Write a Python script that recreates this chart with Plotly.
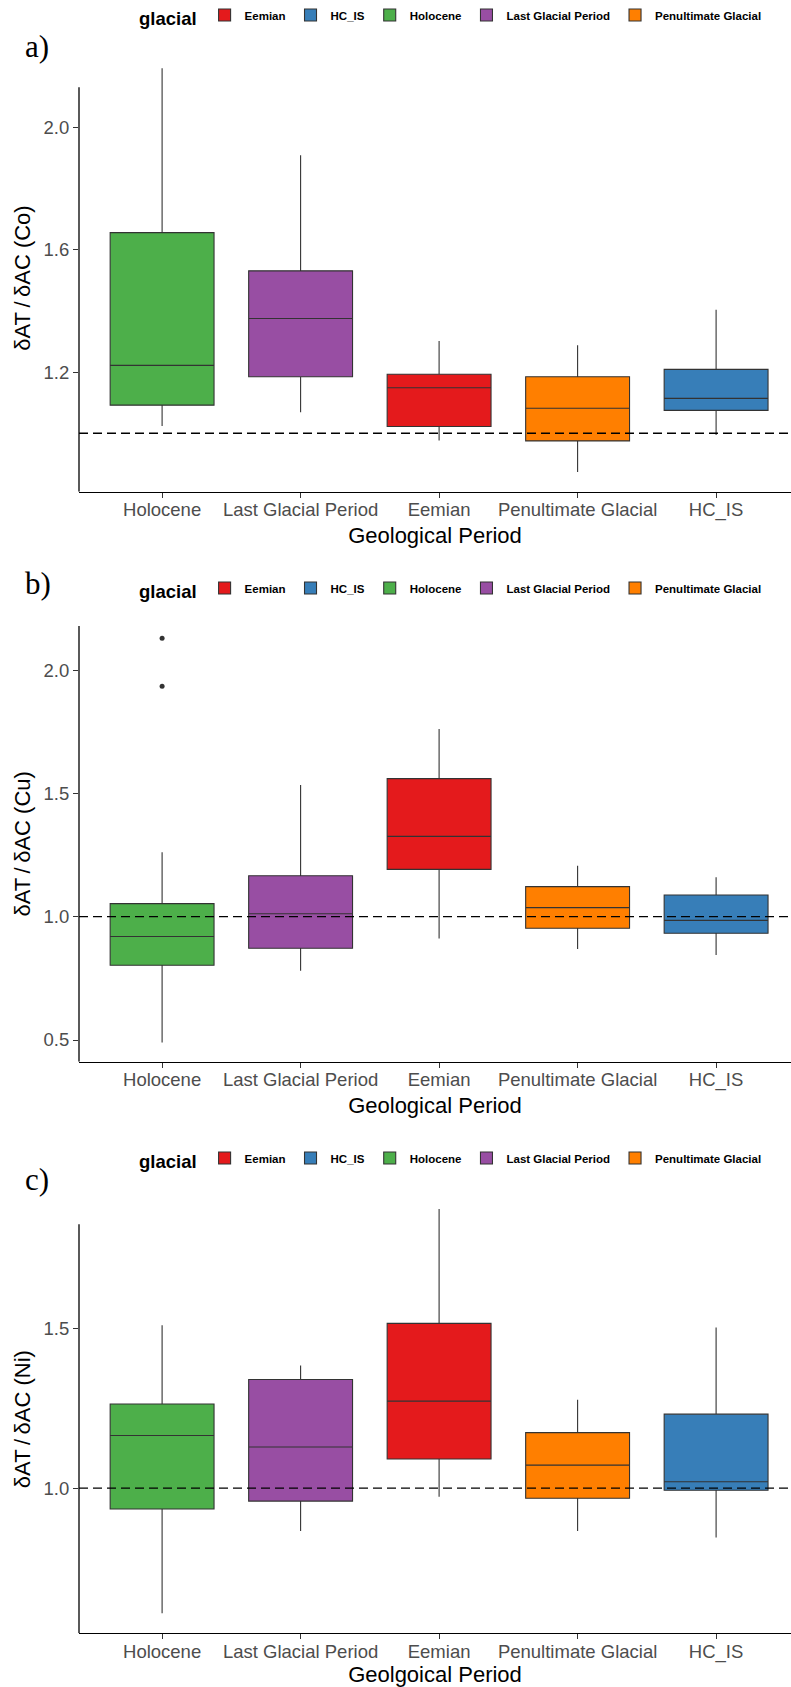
import plotly.graph_objects as go

# ---------------- data ----------------
CATEGORIES = ["Holocene", "Last Glacial Period", "Eemian", "Penultimate Glacial", "HC_IS"]
LEGEND_ORDER = ["Eemian", "HC_IS", "Holocene", "Last Glacial Period", "Penultimate Glacial"]

# Panel a: Co   (values in CATEGORIES order)
CO_LOW = [1.024, 1.069, 0.976, 0.873, 0.994]
CO_Q1 = [1.092, 1.185, 1.022, 0.975, 1.075]
CO_MED = [1.222, 1.375, 1.149, 1.082, 1.114]
CO_Q3 = [1.656, 1.531, 1.193, 1.185, 1.209]
CO_HIGH = [2.193, 1.909, 1.302, 1.288, 1.404]

# Panel b: Cu
CU_LOW = [0.490, 0.781, 0.912, 0.869, 0.845]
CU_Q1 = [0.803, 0.872, 1.192, 0.953, 0.933]
CU_MED = [0.920, 1.012, 1.326, 1.037, 0.985]
CU_Q3 = [1.053, 1.166, 1.560, 1.122, 1.088]
CU_HIGH = [1.261, 1.534, 1.761, 1.207, 1.160]
CU_OUTLIER_CAT = ["Holocene", "Holocene"]
CU_OUTLIER_VAL = [2.129, 1.935]

# Panel c: Ni
NI_LOW = [0.607, 0.865, 0.973, 0.865, 0.845]
NI_Q1 = [0.934, 0.959, 1.091, 0.968, 0.993]
NI_MED = [1.165, 1.129, 1.273, 1.072, 1.020]
NI_Q3 = [1.264, 1.341, 1.517, 1.174, 1.232]
NI_HIGH = [1.511, 1.385, 1.876, 1.277, 1.504]

REF_LINE = 1.0

Y_TICKS_A = [1.2, 1.6, 2.0]
Y_TICKS_B = [0.5, 1.0, 1.5, 2.0]
Y_TICKS_C = [1.0, 1.5]

COLORS = {
    "Eemian": "#E41A1C",
    "HC_IS": "#377EB8",
    "Holocene": "#4DAF4A",
    "Last Glacial Period": "#984EA3",
    "Penultimate Glacial": "#FF7F00",
}

# ---------------- layout constants ----------------
W, H = 791, 1687
SANS = "Liberation Sans, Arial, sans-serif"
NARROW = "Liberation Sans Narrow, Arial Narrow, Liberation Sans, Arial, sans-serif"
SERIF = "Liberation Serif, Times New Roman, serif"
X_LEFT_PX = 79
CAT_STEP_PX = 138.5

panels = [
    dict(key="", low=CO_LOW, q1=CO_Q1, med=CO_MED, q3=CO_Q3, high=CO_HIGH,
         ylo=0.809, yhi=2.131, top_px=87.3, bot_px=491.7, ticks=Y_TICKS_A,
         ytitle="δAT\u2009/\u2009δAC (Co)", xtitle="Geological Period",
         label="a)", label_px=46, legend_px=18),
    dict(key="2", low=CU_LOW, q1=CU_Q1, med=CU_MED, q3=CU_Q3, high=CU_HIGH,
         ylo=0.412, yhi=2.179, top_px=626.0, bot_px=1061.7, ticks=Y_TICKS_B,
         ytitle="δAT\u2009/\u2009δAC (Cu)", xtitle="Geological Period",
         label="b)", label_px=583, legend_px=591),
    dict(key="3", low=NI_LOW, q1=NI_Q1, med=NI_MED, q3=NI_Q3, high=NI_HIGH,
         ylo=0.544, yhi=1.828, top_px=1224.3, bot_px=1633.3, ticks=Y_TICKS_C,
         ytitle="δAT\u2009/\u2009δAC (Ni)", xtitle="Geolgoical Period",
         label="c)", label_px=1179, legend_px=1161),
]

fig = go.Figure()
shapes = []
annotations = []
layout_axes = {}

x_range = [-0.6, -0.6 + (W - X_LEFT_PX) / CAT_STEP_PX]

for p in panels:
    k = p["key"]
    xa, ya = "x" + k, "y" + k
    leg = "legend" + k
    px_per_unit = (p["bot_px"] - p["top_px"]) / (p["yhi"] - p["ylo"])
    data_max = max(p["high"])
    top_val = max(p["yhi"], data_max + 4.0 / px_per_unit)
    dom_top_px = p["bot_px"] - (top_val - p["ylo"]) * px_per_unit
    dom = [1 - p["bot_px"] / H, 1 - dom_top_px / H]

    for period in LEGEND_ORDER:
        i = CATEGORIES.index(period)
        fig.add_trace(go.Box(
            x=[period], q1=[p["q1"][i]], median=[p["med"][i]], q3=[p["q3"][i]],
            lowerfence=[p["low"][i]], upperfence=[p["high"][i]],
            name=period, fillcolor=COLORS[period],
            line=dict(color="#333333", width=1.1), whiskerwidth=0,
            width=0.75, boxpoints=False, xaxis=xa, yaxis=ya, legend=leg,
            hoverinfo="skip",
        ))
    if k == "2":
        fig.add_trace(go.Scatter(
            x=CU_OUTLIER_CAT, y=CU_OUTLIER_VAL, mode="markers",
            marker=dict(size=5, color="#333333"), showlegend=False,
            xaxis=xa, yaxis=ya, hoverinfo="skip",
        ))

    axname = "xaxis" + k
    layout_axes[axname] = dict(
        domain=[X_LEFT_PX / W, 1], anchor=ya, type="category",
        categoryorder="array", categoryarray=CATEGORIES, range=x_range,
        showline=True, linecolor="black", linewidth=1.3,
        ticks="outside", ticklen=5, tickwidth=1.2, tickcolor="#333333",
        ticklabelstandoff=-4,
        tickfont=dict(family=SANS, size=18.5, color="#4D4D4D"),
        title=dict(text=p["xtitle"], font=dict(family=SANS, size=22, color="black"), standoff=7),
        showgrid=False, zeroline=False, fixedrange=True,
    )
    layout_axes["yaxis" + k] = dict(
        domain=dom, anchor=xa, range=[p["ylo"], top_val],
        showline=False, ticks="outside", ticklen=5, tickwidth=1.2, tickcolor="#333333",
        tickvals=p["ticks"], ticktext=[f"{t:.1f}" for t in p["ticks"]],
        tickfont=dict(family=SANS, size=18.5, color="#4D4D4D"),
        title=dict(text=p["ytitle"], font=dict(family=SANS, size=22, color="black"), standoff=6),
        showgrid=False, zeroline=False, fixedrange=True,
    )
    # y axis line spanning the axis limits
    shapes.append(dict(type="line", xref=xa + " domain", yref=ya, x0=0, x1=0,
                       y0=p["ylo"], y1=p["yhi"], line=dict(color="black", width=1.3),
                       layer="above"))
    # reference dashed line
    shapes.append(dict(type="line", xref=xa + " domain", yref=ya, x0=0, x1=1,
                       y0=REF_LINE, y1=REF_LINE,
                       line=dict(color="black", width=1.3, dash="9px,5px"), layer="above"))
    annotations.append(dict(text=p["label"], xref="paper", yref="paper", x=23 / W,
                            y=1 - p["label_px"] / H, xanchor="left", yanchor="middle",
                            showarrow=False, font=dict(family=SERIF, size=31, color="black")))
    layout_axes[leg] = dict(
        orientation="h", x=452 / W, xanchor="center", y=1 - p["legend_px"] / H,
        yanchor="middle", bgcolor="rgba(0,0,0,0)",
        title=dict(text="<b>glacial</b>", side="left",
                   font=dict(family=SANS, size=18.5, color="black")),
        font=dict(family=NARROW, size=11.5, color="black", weight="bold"),
        itemwidth=30, tracegroupgap=0,
    )

fig.update_layout(
    width=W, height=H, margin=dict(l=0, r=0, t=0, b=0),
    paper_bgcolor="white", plot_bgcolor="white",
    shapes=shapes, annotations=annotations, boxmode="overlay",
    **layout_axes,
)

fig.write_html("out.html")
